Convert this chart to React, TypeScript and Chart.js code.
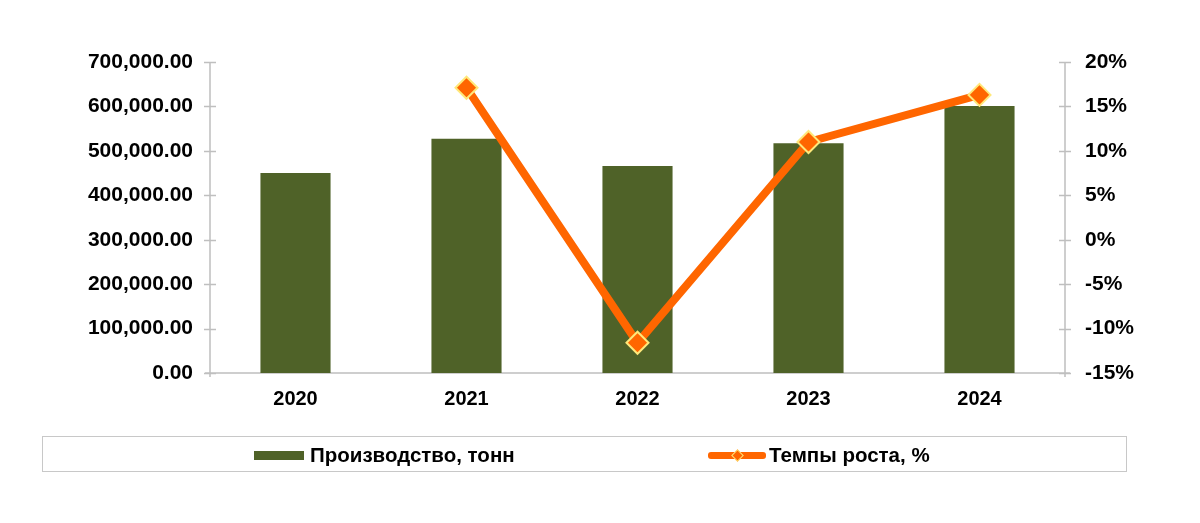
import React, { useEffect, useRef } from "react";
import { Chart, registerables } from "chart.js";

Chart.register(...registerables);

const categories = ["2020", "2021", "2022", "2023", "2024"];
const production = [450000, 527000, 466000, 517000, 601000];
const growth: (number | null)[] = [null, 17.1, -11.6, 11.0, 16.3];

const seriesNames = ["Производство, тонн", "Темпы роста, %"];

const BAR_COLOR = "#4f6228";
const LINE_COLOR = "#ff6600";
const MARKER_BORDER = "#ffe87a";
const AXIS_COLOR = "#bfbfbf";
const FONT = "'Liberation Sans', Arial, Helvetica, sans-serif";

const axisPlugin = {
  id: "crossAxes",
  beforeDatasetsDraw(chart: any) {
    const { ctx, chartArea } = chart;
    const y = chart.scales.y;
    const y1 = chart.scales.y1;
    ctx.save();
    ctx.strokeStyle = AXIS_COLOR;
    ctx.lineWidth = 1.5;
    ctx.beginPath();
    ctx.moveTo(chartArea.left, chartArea.top);
    ctx.lineTo(chartArea.left, chartArea.bottom + 4);
    ctx.moveTo(chartArea.right, chartArea.top);
    ctx.lineTo(chartArea.right, chartArea.bottom + 4);
    ctx.moveTo(chartArea.left - 5, chartArea.bottom);
    ctx.lineTo(chartArea.right + 5, chartArea.bottom);
    y.ticks.forEach((t: any) => {
      const py = Math.round(y.getPixelForValue(t.value)) + 0.5;
      ctx.moveTo(chartArea.left - 6, py);
      ctx.lineTo(chartArea.left + 6, py);
    });
    y1.ticks.forEach((t: any) => {
      const py = Math.round(y1.getPixelForValue(t.value)) + 0.5;
      ctx.moveTo(chartArea.right - 6, py);
      ctx.lineTo(chartArea.right + 6, py);
    });
    ctx.stroke();
    ctx.restore();
  },
};

export default function App() {
  const canvasRef = useRef<HTMLCanvasElement | null>(null);

  useEffect(() => {
    const canvas = canvasRef.current;
    if (!canvas) return;
    const tickFont = { family: FONT, size: 21, weight: "bold" as const };
    const chart = new Chart(canvas, {
      type: "bar",
      data: {
        labels: categories,
        datasets: [
          {
            type: "line",
            label: seriesNames[1],
            data: growth,
            yAxisID: "y1",
            borderColor: LINE_COLOR,
            backgroundColor: LINE_COLOR,
            borderWidth: 8,
            pointStyle: "rectRot",
            pointRadius: 11,
            pointBackgroundColor: LINE_COLOR,
            pointBorderColor: MARKER_BORDER,
            pointBorderWidth: 2,
            tension: 0,
            order: 0,
          } as any,
          {
            type: "bar",
            label: seriesNames[0],
            data: production,
            yAxisID: "y",
            backgroundColor: BAR_COLOR,
            borderWidth: 0,
            barPercentage: 0.41,
            categoryPercentage: 1,
            order: 1,
          } as any,
        ],
      },
      options: {
        responsive: false,
        animation: false,
        layout: { padding: { top: 62, left: 0, right: 0, bottom: 0 } },
        plugins: {
          legend: { display: false },
          tooltip: { enabled: false },
        },
        scales: {
          x: {
            grid: { display: false },
            border: { display: false },
            ticks: { color: "#000", font: { family: FONT, size: 20, weight: "bold" as const }, padding: 6 },
            afterFit: (s: any) => {
              s.height = 150;
            },
          },
          y: {
            position: "left",
            min: 0,
            max: 700000,
            grid: { display: false },
            border: { display: false },
            ticks: {
              stepSize: 100000,
              color: "#000",
              font: tickFont,
              padding: 9,
              callback: (v: any) =>
                Number(v).toLocaleString("en-US", {
                  minimumFractionDigits: 2,
                  maximumFractionDigits: 2,
                }),
            },
            afterFit: (s: any) => {
              s.width = 210;
            },
          },
          y1: {
            position: "right",
            min: -15,
            max: 20,
            grid: { display: false },
            border: { display: false },
            ticks: {
              stepSize: 5,
              color: "#000",
              font: tickFont,
              padding: 12,
              callback: (v: any) => `${v}%`,
            },
            afterFit: (s: any) => {
              s.width = 135;
            },
          },
        },
      },
      plugins: [axisPlugin],
    });
    return () => chart.destroy();
  }, []);

  const legendText: React.CSSProperties = {
    position: "absolute",
    top: 7,
    fontFamily: FONT,
    fontWeight: "bold",
    fontSize: 20.5,
    color: "#000",
    whiteSpace: "nowrap",
    lineHeight: "22px",
  };

  return (
    <div style={{ position: "absolute", left: 0, top: 0, width: 1200, height: 523, background: "#fff" }}>
      <canvas ref={canvasRef} width={1200} height={523} style={{ display: "block", width: 1200, height: 523 }} />
      <div
        style={{
          position: "absolute",
          left: 42,
          top: 436,
          width: 1085,
          height: 36,
          border: "1px solid #c8c8c8",
          boxSizing: "border-box",
        }}
      >
        <div style={{ position: "absolute", left: 211, top: 14, width: 50, height: 9, background: BAR_COLOR }} />
        <div style={{ ...legendText, left: 267 }}>{seriesNames[0]}</div>
        <div style={{ position: "absolute", left: 665, top: 15, width: 58, height: 7, background: LINE_COLOR, borderRadius: 3 }} />
        <div
          style={{
            position: "absolute",
            left: 690,
            top: 14,
            width: 7,
            height: 7,
            background: LINE_COLOR,
            border: `1.5px solid ${MARKER_BORDER}`,
            transform: "rotate(45deg)",
          }}
        />
        <div style={{ ...legendText, left: 726 }}>{seriesNames[1]}</div>
      </div>
    </div>
  );
}
